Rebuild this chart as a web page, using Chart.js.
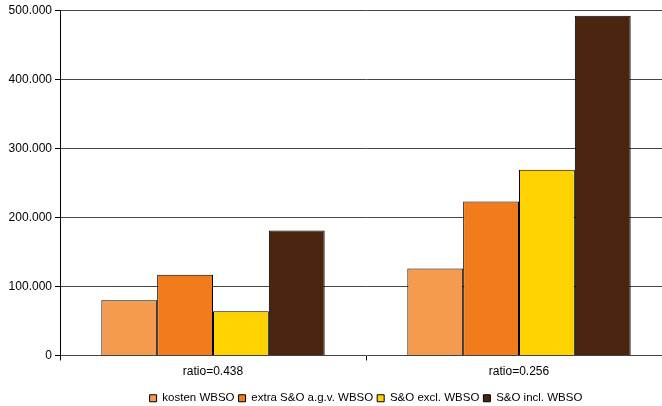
<!DOCTYPE html>
<html>
<head>
<meta charset="utf-8">
<script src="https://cdn.jsdelivr.net/npm/chart.js@4/dist/chart.umd.min.js"></script>
<style>
  html, body { margin: 0; padding: 0; background: #fff; overflow: hidden; }
  #wrap { width: 672px; height: 406px; }
</style>
</head>
<body>
<div id="wrap"><canvas id="chart"></canvas></div>
<script>
const categories = ['ratio=0.438', 'ratio=0.256'];
const seriesNames = ['kosten WBSO', 'extra S&O a.g.v. WBSO', 'S&O excl. WBSO', 'S&O incl. WBSO'];
const kostenWbso = [80000, 126000];
const extraSO = [117000, 223000];
const soExcl = [64000, 269000];
const soIncl = [181000, 492000];
const colors = ['#F59B4F', '#F27C1C', '#FFD200', '#4A2610'];

const values = [kostenWbso, extraSO, soExcl, soIncl];

Chart.defaults.font.family = '"Liberation Sans", Arial, sans-serif';
Chart.defaults.font.size = 12;
Chart.defaults.color = '#000';

const ctx = document.getElementById('chart').getContext('2d');
new Chart(ctx, {
    type: 'bar',
    data: {
        labels: categories,
        datasets: seriesNames.map((name, i) => ({
            label: name,
            data: values[i],
            backgroundColor: colors[i],
            borderColor: '#000',
            borderWidth: 1,
            borderSkipped: 'bottom',
            barPercentage: 1,
            categoryPercentage: 0.73
        }))
    },
    options: {
        responsive: true,
        maintainAspectRatio: false,
        animation: false,
        layout: { padding: { top: 4, right: 0, left: 0, bottom: -8 } },
        plugins: {
            tooltip: { enabled: false },
            legend: {
                position: 'bottom',
                fullSize: false,
                labels: {
                    boxWidth: 7,
                    boxHeight: 7,
                    padding: 4,
                    color: '#000',
                    font: { size: 11.5 }
                }
            }
        },
        scales: {
            x: {
                afterFit: axis => { axis.height = 33; },
                grid: {
                    offset: true,
                    drawOnChartArea: false,
                    drawTicks: true,
                    tickLength: 5,
                    color: '#000'
                },
                border: { display: false },
                ticks: { padding: 4, color: '#000' }
            },
            y: {
                min: 0,
                max: 500000,
                afterFit: axis => { axis.width = 60; },
                grid: {
                    color: '#444',
                    tickLength: 5,
                    tickColor: '#000'
                },
                border: { display: true, color: '#000' },
                ticks: {
                    stepSize: 100000,
                    padding: 3,
                    color: '#000',
                    callback: v => v.toLocaleString('de-DE')
                }
            }
        }
    }
});
</script>
</body>
</html>
